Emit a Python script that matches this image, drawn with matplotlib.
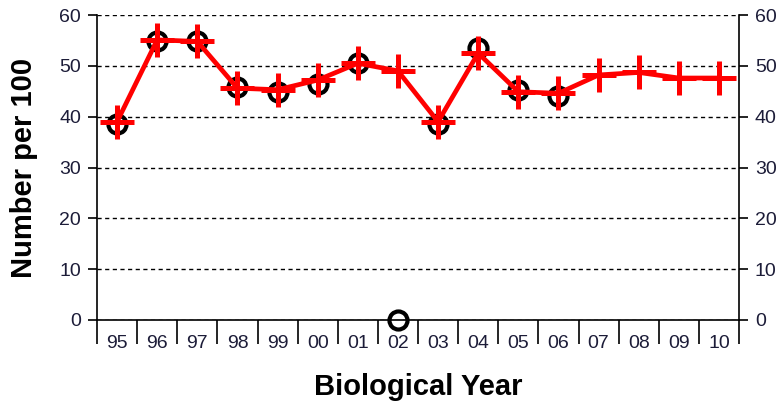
import matplotlib.pyplot as plt
import numpy as np

# data
years = ['95', '96', '97', '98', '99', '00', '01', '02',
         '03', '04', '05', '06', '07', '08', '09', '10']
red_values = [39.0, 55.1, 54.8, 45.6, 45.3, 47.2, 50.5, 49.0,
              39.0, 52.5, 44.9, 44.6, 48.2, 48.7, 47.6, 47.6]
black_values = [38.6, 54.9, 54.8, 45.8, 44.9, 46.4, 50.6, 0.0,
                38.5, 53.6, 45.3, 44.0]
y_ticks = [0, 10, 20, 30, 40, 50, 60]

plt.rcParams['font.family'] = ['Liberation Sans', 'DejaVu Sans']
label_color = '#1c1c38'

fig = plt.figure(figsize=(7.82, 4.08), dpi=100)
ax = fig.add_axes([97 / 782, 88 / 408, 642 / 782, 305 / 408])

x_red = np.arange(len(red_values))
x_black = np.arange(len(black_values))

# black open circles underneath
ax.plot(x_black, black_values, linestyle='none', marker='o', markersize=13,
        markerfacecolor='none', markeredgecolor='black', markeredgewidth=3,
        clip_on=False, zorder=3)
# red line with plus markers
ax.plot(x_red, red_values, color='red', linewidth=3.4, marker='+',
        markersize=24, markeredgewidth=3.6, clip_on=False, zorder=4)

ax.set_xlim(-0.5, len(years) - 0.5)
ax.set_ylim(0, 60)

# y axis on both sides
ax.set_yticks(y_ticks)
ax.set_yticklabels([str(v) for v in y_ticks])
ax.tick_params(axis='y', direction='out', length=6.5, width=1.2,
               left=True, right=True, labelleft=True, labelright=True,
               labelsize=14, labelcolor=label_color, pad=5)
ax.grid(axis='y', color='black', linestyle=(0, (3, 2.5)), linewidth=1)
ax.set_axisbelow(True)

# x axis: long ticks at category boundaries, labels centered
ax.set_xticks(np.arange(len(years) + 1) - 0.5)
ax.set_xticklabels([''] * (len(years) + 1))
ax.set_xticks(np.arange(len(years)), minor=True)
ax.set_xticklabels(years, minor=True)
ax.tick_params(axis='x', which='major', direction='out', length=17, width=1.2)
ax.tick_params(axis='x', which='minor', length=0, pad=11,
               labelsize=14, labelcolor=label_color)

for side in ['left', 'right', 'bottom']:
    ax.spines[side].set_linewidth(1.2)
ax.spines['top'].set_visible(False)

ax.set_xlabel('Biological Year', fontsize=21, fontweight='bold', labelpad=15)
ax.set_ylabel('Number per 100', fontsize=21, fontweight='bold', labelpad=15)

fig.savefig('out.png', dpi=100)
